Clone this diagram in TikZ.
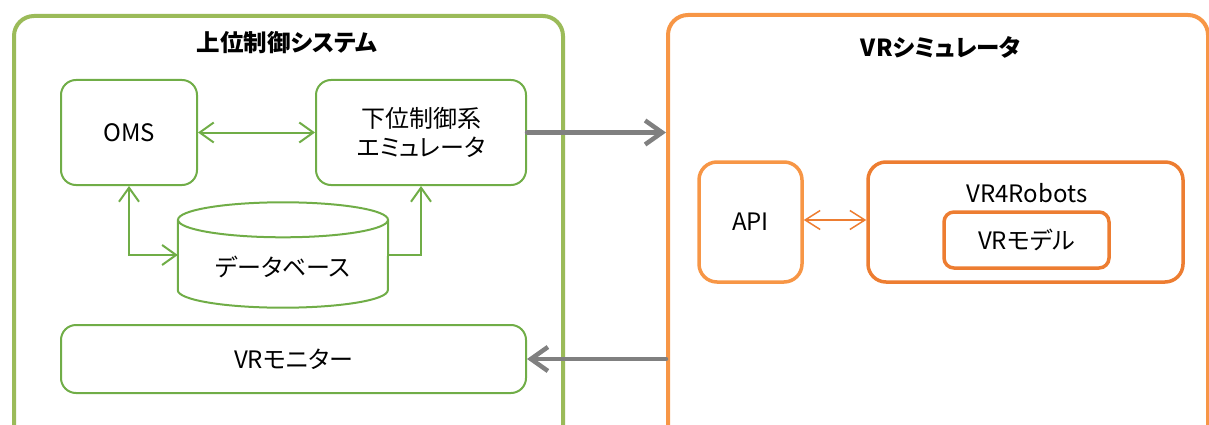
\documentclass[tikz,border=0pt]{standalone}
\usepackage{fontspec}
\setmainfont{Noto Sans CJK JP}[RawFeature={+palt}]
\usetikzlibrary{arrows.meta}
\definecolor{grpgreen}{HTML}{9BBB59}
\definecolor{boxgreen}{HTML}{70AD47}
\definecolor{grporange}{HTML}{F79646}
\definecolor{boxorange}{HTML}{ED7D31}
\definecolor{linkgray}{HTML}{808080}

\begin{document}
\begin{tikzpicture}[x=1pt, y=-1pt,
    every node/.style={font=\fontsize{24}{29}\selectfont, align=center, inner sep=0pt},
    grptitle/.style={font=\fontsize{23.5}{28}\selectfont\bfseries},
    grp/.style={draw, line width=4pt, rounded corners=20pt, anchor=north west},
    gbox/.style={draw=boxgreen, line width=2pt, rounded corners=15pt},
    obox/.style={draw=boxorange, line width=3.5pt, rounded corners=18pt},
    glink/.style={draw=boxgreen, line width=2pt, {Straight Barb[length=14pt,width=20pt]}-{Straight Barb[length=14pt,width=20pt]}},
    olink/.style={draw=boxorange, line width=1.5pt, {Straight Barb[length=15pt,width=19pt]}-{Straight Barb[length=15pt,width=19pt]}},
    xlink/.style={draw=linkgray, line width=4.5pt, line cap=round, -{Straight Barb[length=17pt,width=24pt]}}]
    \useasboundingbox (0,0) rectangle (1209,425);
    \clip (0,0) rectangle (1209,425);
    \node[grp, draw=grpgreen, minimum width=549, minimum height=431] (ctrl) at (12,14) {};
    \node[grp, draw=grporange, minimum width=540, minimum height=432] (sim) at (666,13) {};
    \node[grptitle] (ctrltitle) at (287,43) {上位制御システム};
    \node[grptitle] (simtitle) at (941,47) {VRシミュレータ};
    \node[gbox, minimum width=136, minimum height=105] (oms) at (129,132.5) {OMS};
    \node[gbox, minimum width=210, minimum height=105] (emu) at (421,132.5) {下位制御系\\エミュレータ};
    \node[minimum width=210, minimum height=70] (db) at (283,255) {};
    \node (dbtext) at (283,267) {データベース};
    \draw[boxgreen, line width=2pt] (db.north) ellipse [x radius=105, y radius=17.5];
    \draw[boxgreen, line width=2pt] (db.north west) -- (db.south west)
        arc [start angle=180, end angle=0, x radius=105, y radius=17.5] -- (db.north east);
    \node[gbox, minimum width=465, minimum height=68] (mon) at (293.5,359) {VRモニター};
    \node[obox, draw=grporange, minimum width=103, minimum height=120] (api) at (750.5,222) {API};
    \node[obox, minimum width=315, minimum height=120] (vr4r) at (1025.5,222) {};
    \node (vr4rtext) at (1027,193) {VR4Robots};
    \node[obox, rounded corners=10pt, minimum width=165, minimum height=56] (model) at (1026.5,240) {VRモデル};
    \draw [glink] (oms) to (emu);
    \draw [glink] (oms.south) |- (db.west);
    \draw [glink, {Straight Barb[length=14pt,width=20pt]}-] (emu.south) |- (db.east);
    \draw [olink] (api.east |- 0,220) to (vr4r.west |- 0,220);
    \draw [xlink] (emu.east) to (emu.east -| sim.west);
    \draw [xlink] (sim.west |- mon.east) to (mon.east);
  \end{tikzpicture}
\end{document}
